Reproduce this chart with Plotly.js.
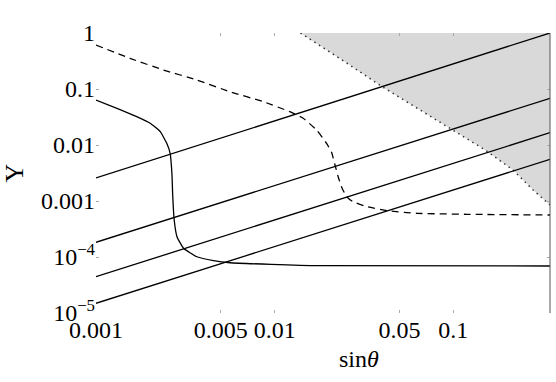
<!DOCTYPE html>
<html>
<head>
<meta charset="utf-8">
<script src="https://cdn.plot.ly/plotly-3.0.1.min.js"></script>
<style>
  body { margin: 0; background: #fff; }
  #plot { width: 556px; height: 382px; }
</style>
</head>
<body>
<div id="plot"></div>
<script>
// solid curve (steep drop near sin theta ~ 0.0027)
var solidX = [0.001, 0.00131, 0.00169, 0.00201, 0.00229, 0.00249, 0.0026, 0.00266, 0.00269, 0.00274, 0.00284, 0.00309, 0.00367, 0.00455, 0.00563, 0.0174, 0.348];
var solidY = [0.0636, 0.0452, 0.032, 0.0244, 0.0173, 0.0107, 0.00711, 0.00312, 0.00119, 0.000458, 0.00023, 0.000143, 0.000101, 8.6e-5, 7.9e-5, 7.0e-5, 6.9e-5];

// dashed curve
var dashX = [0.001, 0.00155, 0.00239, 0.00367, 0.00562, 0.00865, 0.01217, 0.01445, 0.01718, 0.01954, 0.02081, 0.02178, 0.02279, 0.02383, 0.02525, 0.0273, 0.033, 0.0426, 0.0627, 0.119, 0.348];
var dashY = [0.61, 0.353, 0.218, 0.145, 0.0895, 0.0593, 0.0393, 0.03, 0.0185, 0.0107, 0.0075, 0.0044, 0.00258, 0.00171, 0.0012, 0.00098, 0.00079, 0.000671, 0.000603, 0.000579, 0.000562];

// four straight lines (end points)
var lineX = [0.001, 0.348];
var line1Y = [0.00258, 1];
var line2Y = [1.83e-4, 0.0682];
var line3Y = [4.46e-5, 0.0166];
var line4Y = [1.49e-5, 0.00556];

// shaded (excluded) region boundary
var shadeX = [0.01396, 0.0204, 0.0247, 0.04, 0.1, 0.151, 0.216, 0.28, 0.348];
var shadeY = [1, 0.464, 0.307, 0.11, 0.0185, 0.00814, 0.00358, 0.00157, 0.000849];

// ticks
var xTicks = [0.001, 0.005, 0.01, 0.05, 0.1];
var xTickText = ['0.001', '0.005', '0.01', '0.05', '0.1'];
var xMinor = [0.002, 0.003, 0.004, 0.006, 0.007, 0.008, 0.009, 0.02, 0.03, 0.04, 0.06, 0.07, 0.08, 0.09, 0.2, 0.3];
var yTicks = [1e-5, 1e-4, 0.001, 0.01, 0.1, 1];
var yTickText = ['10<sup>\u22125</sup>', '10<sup>\u22124</sup>', '0.001', '0.01', '0.1', '1'];
var yMinor = [];
[1e-5, 1e-4, 1e-3, 1e-2, 1e-1].forEach(function (d) {
  for (var k = 2; k <= 9; k++) yMinor.push(d * k);
});

var xMax = 0.348;

var solidLine = {color: '#000', width: 1.3};

var data = [
  {
    x: shadeX.concat([xMax]), y: shadeY.concat([1]),
    mode: 'lines', fill: 'toself', fillcolor: '#d9d9d9',
    line: {width: 0}, hoverinfo: 'skip'
  },
  {
    x: shadeX, y: shadeY, mode: 'lines',
    line: {color: '#333', width: 1.5, dash: '1.5px,4px'}
  },
  {x: lineX, y: line1Y, mode: 'lines', line: solidLine},
  {x: lineX, y: line2Y, mode: 'lines', line: solidLine},
  {x: lineX, y: line3Y, mode: 'lines', line: solidLine},
  {x: lineX, y: line4Y, mode: 'lines', line: solidLine},
  {
    x: solidX, y: solidY, mode: 'lines',
    line: {color: '#000', width: 1.3, shape: 'spline', smoothing: 0.4}
  },
  {
    x: dashX, y: dashY, mode: 'lines',
    line: {color: '#000', width: 1.3, dash: '7px,5px', shape: 'spline', smoothing: 0.4}
  }
];

function serif(size) {
  return {family: 'Liberation Serif', size: size, color: '#000'};
}

var layout = {
  width: 556,
  height: 382,
  margin: {l: 96, r: 6, t: 33, b: 69},
  showlegend: false,
  paper_bgcolor: '#fff',
  plot_bgcolor: '#fff',
  font: serif(24),
  xaxis: {
    type: 'log',
    range: [-3, Math.log10(xMax)],
    tickvals: xTicks,
    ticktext: xTickText,
    tickangle: 0,
    ticks: 'inside',
    ticklen: 3,
    tickcolor: '#aaa',
    mirror: 'ticks',
    showgrid: false,
    zeroline: false,
    showline: false,
    tickfont: serif(24)
  },
  xaxis2: {
    type: 'log',
    overlaying: 'x',
    range: [-3, Math.log10(xMax)],
    tickvals: xMinor,
    ticks: 'inside',
    ticklen: 2,
    tickcolor: '#bbb',
    mirror: 'ticks',
    showticklabels: false,
    showgrid: false,
    zeroline: false,
    showline: false
  },
  yaxis: {
    type: 'log',
    range: [-5, 0],
    tickvals: yTicks,
    ticktext: yTickText,
    ticks: 'inside',
    ticklen: 3,
    tickcolor: '#aaa',
    mirror: 'ticks',
    showgrid: false,
    zeroline: false,
    showline: false,
    tickfont: serif(24),
    title: {text: 'Y', font: serif(26), standoff: 12}
  },
  yaxis2: {
    type: 'log',
    overlaying: 'y',
    range: [-5, 0],
    tickvals: yMinor,
    ticks: 'inside',
    ticklen: 2,
    tickcolor: '#bbb',
    mirror: 'ticks',
    showticklabels: false,
    showgrid: false,
    zeroline: false,
    showline: false
  },
  annotations: [
    {text: 'sin<i>\u03b8</i>', xref: 'paper', yref: 'paper', x: 0.58, y: -0.165,
     xanchor: 'center', yanchor: 'middle', showarrow: false, font: serif(24)}
  ],
  shapes: [
    {type: 'line', xref: 'paper', yref: 'paper', x0: 1, x1: 1, y0: 0, y1: 1,
     line: {color: '#555', width: 1}}
  ]
};

Plotly.newPlot('plot', data, layout, {staticPlot: true});
</script>
</body>
</html>
